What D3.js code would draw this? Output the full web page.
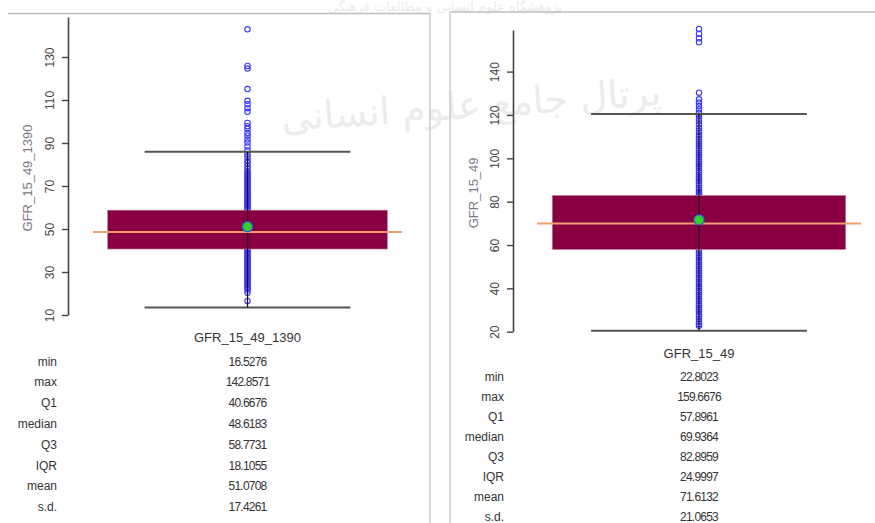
<!DOCTYPE html>
<html>
<head>
<meta charset="utf-8">
<script src="https://cdn.jsdelivr.net/npm/d3@7"></script>
<style>
  html, body { margin: 0; padding: 0; background: #fff; }
  svg { display: block; font-family: "Liberation Sans", Arial, sans-serif; }
</style>
</head>
<body>
<svg id="chart" width="875" height="523"></svg>
<script>
// --- data ---
var statNames = ["min", "max", "Q1", "median", "Q3", "IQR", "mean", "s.d."];

var name1390 = "GFR_15_49_1390";
var stats1390 = [16.5276, 142.8571, 40.6676, 48.6183, 58.7731, 18.1055, 51.0708, 17.4261];
var ticks1390 = [10, 30, 50, 70, 90, 110, 130];
var values1390 = [142.86, 125.8, 124.6, 115.1, 109.6, 108.0, 106.2, 104.5, 99.3, 97.8, 96.5, 94.7,
  93.4, 91.6, 90.2, 88.4, 86.5, 84.8, 83.5, 81.9, 80.7, 79.3, 78.1, 76.8, 75.9, 75.2, 74.5, 73.7,
  73.1, 72.4, 71.6, 71.0, 70.3, 69.5, 68.8, 68.2, 67.4, 66.9, 66.1, 65.4, 64.8, 64.0, 63.5, 62.7,
  62.1, 61.4, 60.8, 60.0, 59.5, 58.9, 57.6, 56.2, 55.0, 53.8, 52.4, 51.1, 49.9, 48.6, 47.3, 46.0,
  44.8, 43.5, 42.2, 41.3, 40.6, 39.9, 39.2, 38.6, 37.9, 37.1, 36.5, 35.8, 35.0, 34.4, 33.7, 33.0,
  32.3, 31.6, 30.9, 30.2, 29.6, 28.8, 28.1, 27.5, 26.7, 26.0, 25.3, 24.6, 23.9, 23.2, 22.6, 21.7,
  20.3, 16.53];

var name1395 = "GFR_15_49";
var stats1395 = [22.8023, 159.6676, 57.8961, 69.9364, 82.8959, 24.9997, 71.6132, 21.0653];
var ticks1395 = [20, 40, 60, 80, 100, 120, 140];
var values1395 = [159.67, 157.5, 155.4, 153.5, 130.3, 127.2, 125.7, 124.1, 122.6, 121.0, 119.6,
  118.3, 117.1, 115.6, 114.0, 112.6, 111.0, 109.8, 108.7, 107.6, 106.7, 105.6, 104.5, 103.6, 102.5,
  101.4, 100.5, 99.4, 98.4, 97.5, 96.4, 95.5, 94.4, 93.5, 92.4, 91.3, 90.5, 89.4, 88.5, 87.4, 86.3,
  85.5, 84.4, 83.5, 82.9, 80.4, 77.8, 75.1, 72.6, 69.9, 67.3, 64.8, 62.1, 59.6, 57.9, 57.0, 56.1,
  55.0, 54.1, 53.0, 52.1, 51.0, 50.1, 49.0, 48.1, 47.0, 46.1, 45.0, 44.1, 43.0, 42.1, 41.0, 40.1,
  39.0, 38.1, 37.0, 36.1, 35.0, 34.1, 33.0, 32.1, 31.0, 30.1, 29.2, 28.1, 27.3, 26.0, 24.6, 23.5,
  22.80];

var svg = d3.select("#chart");

// faint watermark behind everything
var wm = svg.append("g").attr("class", "watermark")
  .style("font-family", "'DejaVu Sans', sans-serif")
  .attr("fill", "#ececec")
  .attr("text-anchor", "middle")
  .attr("direction", "rtl");
wm.append("text").attr("x", 445).attr("y", 11).style("font-size", "13px")
  .text("پژوهشگاه علوم انسانی و مطالعات فرهنگی");
wm.append("text").attr("transform", "translate(472,118) rotate(-4)").style("font-size", "38px")
  .text("پرتال جامع علوم انسانی");

// frame lines of the two screenshots
var frame = svg.append("g").attr("class", "frame");
frame.append("line").attr("x1", 8).attr("x2", 430).attr("y1", 13.5).attr("y2", 13.5)
  .attr("stroke", "#bdbdbd").attr("stroke-width", 1.5);
frame.append("line").attr("x1", 450).attr("x2", 875).attr("y1", 12).attr("y2", 12)
  .attr("stroke", "#bdbdbd").attr("stroke-width", 1.5);
frame.append("line").attr("x1", 430).attr("x2", 430).attr("y1", 13).attr("y2", 523)
  .attr("stroke", "#cccccc").attr("stroke-width", 1.5);
frame.append("line").attr("x1", 450).attr("x2", 450).attr("y1", 12).attr("y2", 523)
  .attr("stroke", "#cccccc").attr("stroke-width", 1.5);

var panels = [
  { name: name1390, stats: stats1390, ticks: ticks1390, values: values1390,
    domain: [10, 148.6], yRange: [315, 17], axisX: 68, band: [93, 402], titleX: 27,
    headerY: 342, rowY0: 365.5, rowStep: 20.8, labelX: 57 },
  { name: name1395, stats: stats1395, ticks: ticks1395, values: values1395,
    domain: [20, 159.2], yRange: [331.7, 30], axisX: 513, band: [537, 861], titleX: 473,
    headerY: 358, rowY0: 380.5, rowStep: 20, labelX: 504 }
];

panels.forEach(function (p) {
  var st = {};
  statNames.forEach(function (n, i) { st[n] = p.stats[i]; });
  var lowW = st.Q1 - 1.5 * st.IQR;
  var highW = st.Q3 + 1.5 * st.IQR;

  var y = d3.scaleLinear().domain(p.domain).range(p.yRange);
  var x = d3.scaleBand().domain([p.name]).range(p.band);
  var cx = x(p.name) + x.bandwidth() / 2;
  var bw = x.bandwidth();

  var g = svg.append("g").attr("class", "panel");

  // y axis, R style labels parallel to the axis
  var axis = g.append("g")
    .attr("transform", "translate(" + p.axisX + ",0)")
    .call(d3.axisLeft(y).tickValues(p.ticks).tickSize(6).tickSizeOuter(0).tickFormat(d3.format("d")));
  axis.select(".domain").attr("stroke", "#444").attr("stroke-width", 1.6);
  axis.selectAll(".tick line").attr("stroke", "#444").attr("stroke-width", 1.4);
  axis.selectAll(".tick text")
    .attr("transform", "rotate(-90)")
    .attr("x", 0).attr("y", -14).attr("dy", 0)
    .attr("text-anchor", "middle")
    .attr("fill", "#444")
    .style("font-size", "12px");

  g.append("text")
    .attr("transform", "translate(" + p.titleX + "," + ((p.yRange[0] + p.yRange[1]) / 2 + 12) + ") rotate(-90)")
    .attr("text-anchor", "middle")
    .attr("dy", "0.35em")
    .attr("fill", "#7d7785")
    .style("font-size", "13px")
    .text(p.name);

  // points
  g.append("g").selectAll("circle")
    .data(p.values)
    .enter().append("circle")
    .attr("cx", cx)
    .attr("cy", function (d) { return y(d); })
    .attr("r", 2.7)
    .attr("fill", "none")
    .attr("stroke", "#3a3aff")
    .attr("stroke-width", 1.1);

  // box
  g.append("rect")
    .attr("x", cx - bw * 0.453)
    .attr("width", bw * 0.906)
    .attr("y", y(st.Q3))
    .attr("height", y(st.Q1) - y(st.Q3))
    .attr("fill", "#880042")
    .attr("stroke", "#c890a8")
    .attr("stroke-width", 0.6);

  // whiskers
  [lowW, highW].forEach(function (w) {
    g.append("line")
      .attr("x1", cx - bw * 0.333).attr("x2", cx + bw * 0.333)
      .attr("y1", y(w)).attr("y2", y(w))
      .attr("stroke", "#555").attr("stroke-width", 2);
  });
  g.append("line")
    .attr("x1", cx).attr("x2", cx)
    .attr("y1", y(lowW)).attr("y2", y(highW))
    .attr("stroke", "#2a0a1a").attr("stroke-width", 1.3);

  // median
  g.append("line")
    .attr("x1", cx - bw / 2).attr("x2", cx + bw / 2)
    .attr("y1", y(st.median)).attr("y2", y(st.median))
    .attr("stroke", "#f0a070").attr("stroke-width", 2);

  // mean
  g.append("circle")
    .attr("cx", cx).attr("cy", y(st.mean)).attr("r", 5)
    .attr("fill", "#2ed12e").attr("stroke", "#2f5fd0").attr("stroke-width", 1.2);

  // summary table
  var t = g.append("g").attr("fill", "#333");
  t.append("text").attr("x", cx).attr("y", p.headerY)
    .attr("text-anchor", "middle").style("font-size", "13px").text(p.name);
  statNames.forEach(function (n, i) {
    var ry = p.rowY0 + i * p.rowStep;
    t.append("text").attr("x", p.labelX).attr("y", ry)
      .attr("text-anchor", "end").style("font-size", "12px").text(n);
    t.append("text").attr("x", cx).attr("y", ry)
      .attr("text-anchor", "middle").style("font-size", "12px").style("letter-spacing", "-0.8px")
      .text(d3.format(".4f")(p.stats[i]));
  });
});
</script>
</body>
</html>
